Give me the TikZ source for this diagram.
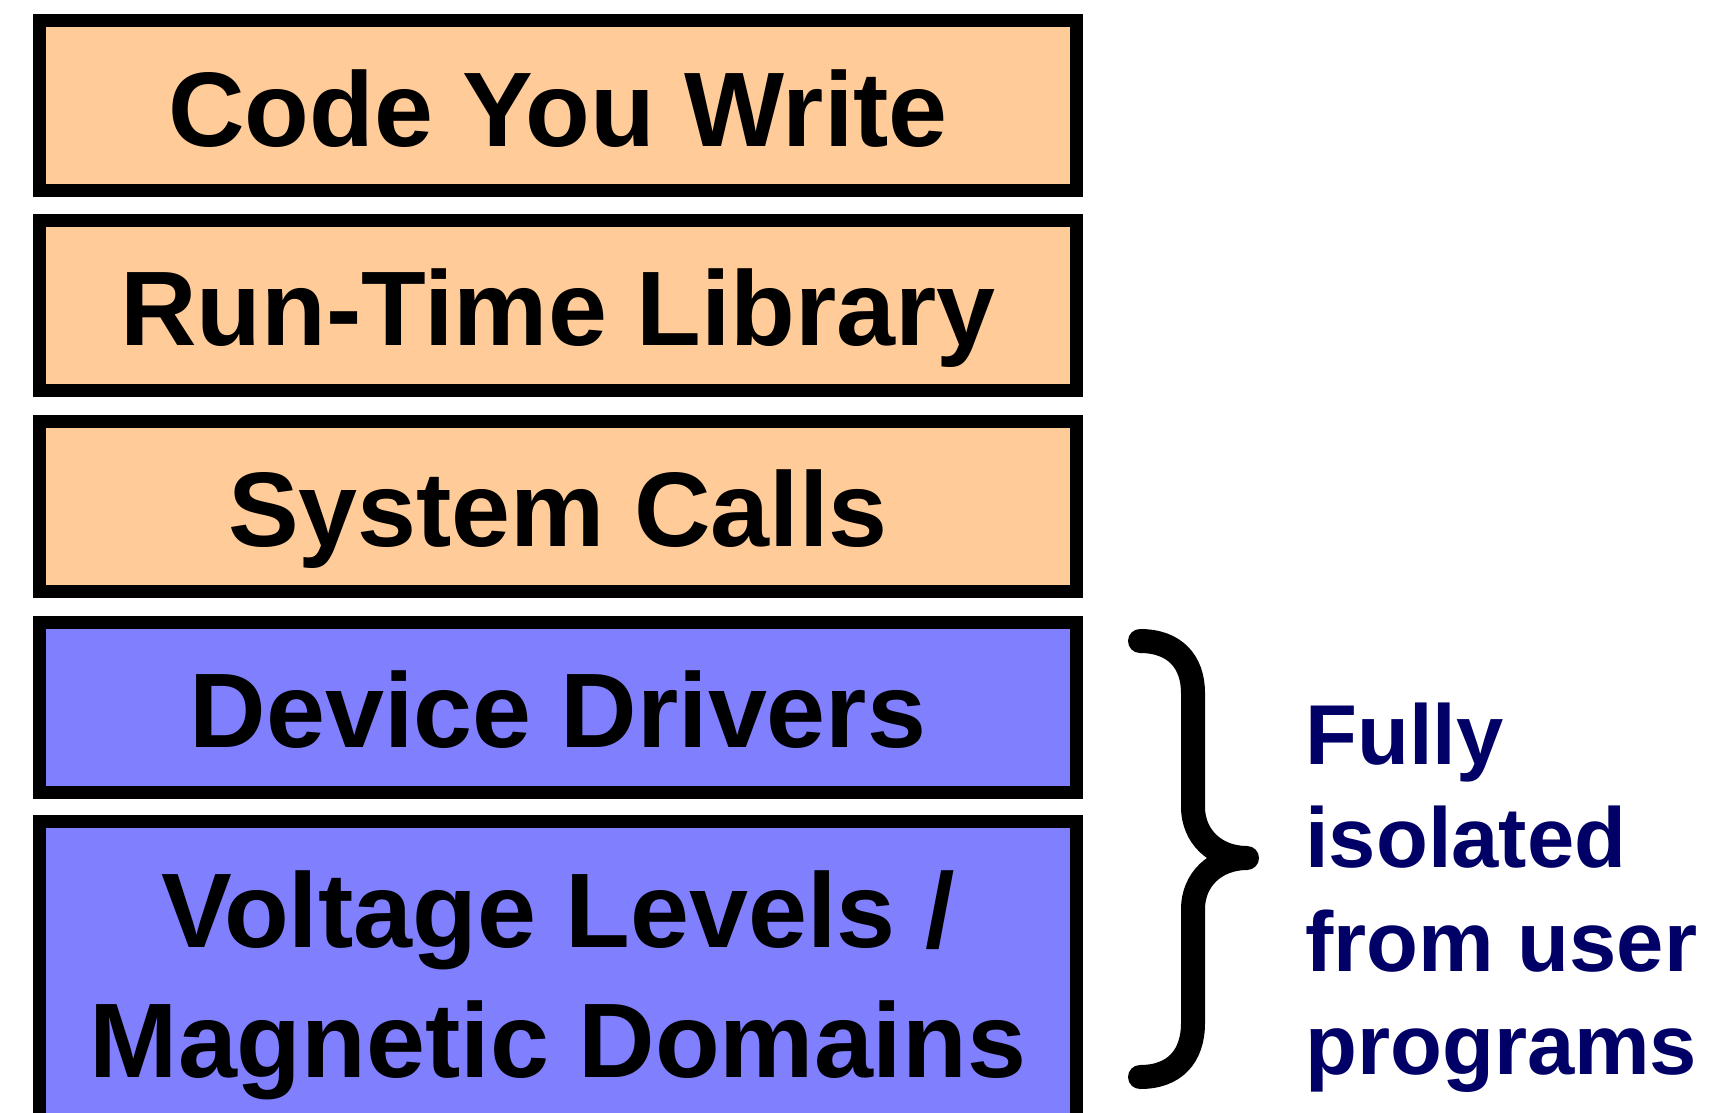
\documentclass[tikz,border=0pt]{standalone}
\usepackage{fontspec}
\setmainfont{Liberation Sans}
\definecolor{layerorange}{HTML}{FFCC99}
\definecolor{layerblue}{HTML}{8080FF}
\definecolor{notenavy}{HTML}{000066}
\begin{document}
\begin{tikzpicture}[x=1pt,y=-1pt,
  layer/.style={draw=black, line width=13pt, rectangle, inner sep=0pt, outer sep=0pt,
    minimum width=1037pt, minimum height=170pt,
    font=\fontsize{106}{130}\selectfont\bfseries, text height=81pt, text depth=0pt},
  userlayer/.style={layer, fill=layerorange},
  oslayer/.style={layer, fill=layerblue},
  bracestroke/.style={line width=24pt, line cap=round, line join=round},
  note/.style={text=notenavy, inner sep=0pt, anchor=base west,
    font=\fontsize{85}{103.5}\selectfont\bfseries}
]
\useasboundingbox (0,0) rectangle (1722,1112);
\begin{scope}
\clip (0,0) rectangle (1722,1112);
\node[userlayer] (code) at (558,105.5) {Code You Write};
\node[userlayer] (rtl) at (558,305.25) {Run-Time Library};
\node[userlayer] (sys) at (558,506.25) {System Calls};
\node[oslayer] (drv) at (558,707) {Device Drivers};
\node[oslayer, minimum height=340pt] (volt) at (558,991.5) {};
\node[inner sep=0pt, anchor=base, font=\fontsize{106}{130}\selectfont\bfseries] (voltlabel) at (558,947)
  {\vtop{\baselineskip=130pt\lineskiplimit=-200pt\halign{\hfil#\hfil\cr Voltage Levels /\cr Magnetic Domains\cr}}};
\end{scope}
\coordinate (bt) at (1140,641);
\coordinate (bm) at (1247,858);
\coordinate (bb) at (1140,1077);
\draw[bracestroke] (bt) .. controls (1175,641) and (1193,662) .. (1193,693)
  -- (1193,807) .. controls (1193,836) and (1215,858) .. (bm)
  .. controls (1215,858) and (1193,880) .. (1193,909)
  -- (1193,1023) .. controls (1193,1056) and (1175,1077) .. (bb);
\node[note] (iso) at (1305,764)
  {\vtop{\baselineskip=103.5pt\lineskiplimit=-200pt\halign{#\hfil\cr Fully\cr isolated\cr from user\cr programs\cr}}};
\end{tikzpicture}
\end{document}
